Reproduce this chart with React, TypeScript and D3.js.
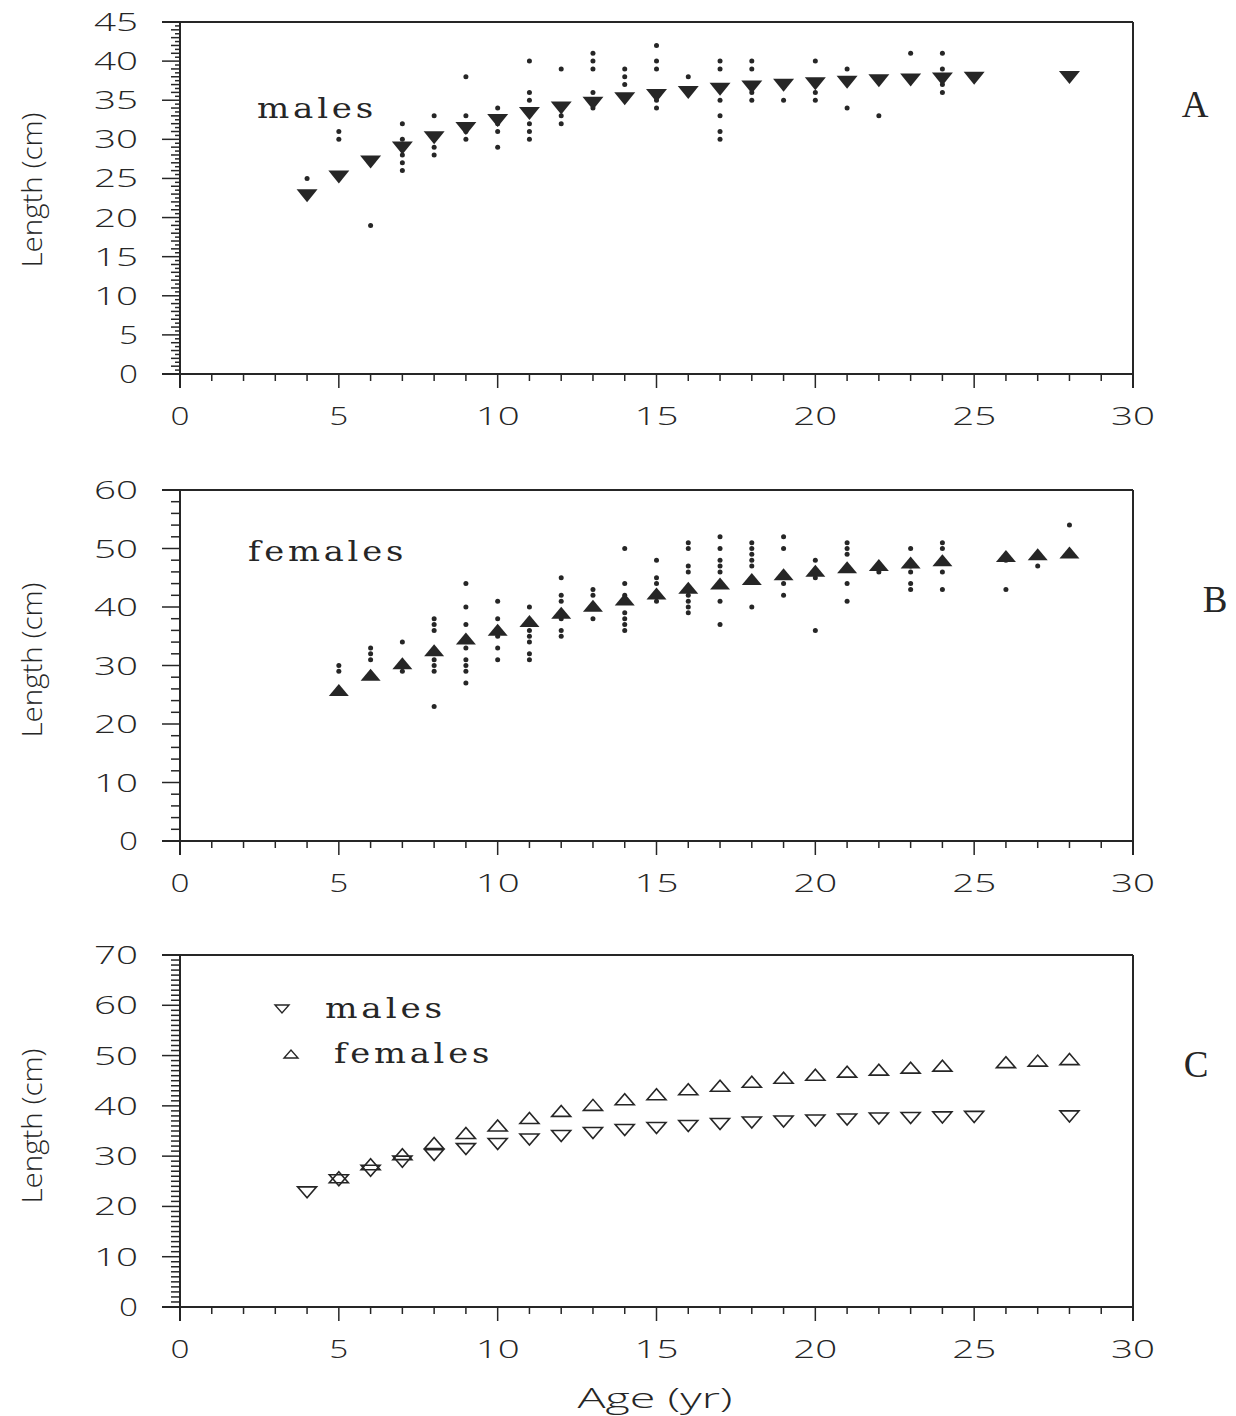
import React from 'react';
import * as d3 from 'd3';

// Age axis ticks and length axis ticks for each panel
const ageTicks = [0, 5, 10, 15, 20, 25, 30];
const lengthTicksA = [0, 5, 10, 15, 20, 25, 30, 35, 40, 45];
const lengthTicksB = [0, 10, 20, 30, 40, 50, 60];
const lengthTicksC = [0, 10, 20, 30, 40, 50, 60, 70];

// Mean length at age (cm)
const maleAges = [4, 5, 6, 7, 8, 9, 10, 11, 12, 13, 14, 15, 16, 17, 18, 19, 20, 21, 22, 23, 24, 25, 28];
const maleMeans = [22.8, 25.2, 27.1, 28.9, 30.2, 31.4, 32.4, 33.3, 34.0, 34.6, 35.2, 35.6, 36.0, 36.4, 36.7, 36.9, 37.1, 37.3, 37.5, 37.6, 37.7, 37.8, 37.9];
const femaleAges = [5, 6, 7, 8, 9, 10, 11, 12, 13, 14, 15, 16, 17, 18, 19, 20, 21, 22, 23, 24, 26, 27, 28];
const femaleMeans = [25.8, 28.4, 30.4, 32.6, 34.6, 36.1, 37.6, 39.0, 40.2, 41.3, 42.3, 43.3, 44.0, 44.8, 45.6, 46.2, 46.8, 47.2, 47.6, 48.0, 48.7, 49.0, 49.3];

// Individual fish lengths (cm) by age
const maleLengths: [number, number[]][] = [
  [4, [25]],
  [5, [31, 30]],
  [6, [19]],
  [7, [32, 30, 28, 27, 26]],
  [8, [33, 29, 28]],
  [9, [38, 33, 31, 30]],
  [10, [34, 32, 31, 29]],
  [11, [40, 36, 35, 32, 31, 30]],
  [12, [39, 33, 32]],
  [13, [41, 40, 39, 36, 34]],
  [14, [39, 38, 37]],
  [15, [42, 40, 39, 35, 34]],
  [16, [38]],
  [17, [40, 39, 35, 33, 31, 30]],
  [18, [40, 39, 36, 35]],
  [19, [35]],
  [20, [40, 36, 35]],
  [21, [39, 34]],
  [22, [33]],
  [23, [41]],
  [24, [41, 39, 37, 36]],
];

const femaleLengths: [number, number[]][] = [
  [5, [30, 29]],
  [6, [33, 32, 31]],
  [7, [34, 29]],
  [8, [38, 37, 36, 31, 30, 29, 23]],
  [9, [44, 40, 37, 33, 31, 30, 29, 27]],
  [10, [41, 38, 35, 33, 31]],
  [11, [40, 36, 35, 34, 32, 31]],
  [12, [45, 42, 41, 38, 36, 35]],
  [13, [43, 42, 38]],
  [14, [50, 44, 42, 39, 38, 37, 36]],
  [15, [48, 45, 44, 41]],
  [16, [51, 50, 47, 46, 42, 41, 40, 39]],
  [17, [52, 50, 48, 47, 46, 41, 37]],
  [18, [51, 50, 49, 48, 47, 40]],
  [19, [52, 50, 44, 42]],
  [20, [48, 45, 36]],
  [21, [51, 50, 49, 44, 41]],
  [22, [46]],
  [23, [50, 47, 46, 44, 43]],
  [24, [51, 50, 46, 43]],
  [26, [48, 43]],
  [27, [47]],
  [28, [54]],
];

const INK = '#262626';
const SANS = "'Open Sans', 'DejaVu Sans', sans-serif";
const SERIF = "'DejaVu Serif', 'Liberation Serif', serif";
const TIMES = "'Liberation Serif', 'DejaVu Serif', serif";

const X_LEFT = 180;
const X_RIGHT = 1133;
const x = d3.scaleLinear().domain([0, 30]).range([X_LEFT, X_RIGHT]);

const yA = d3.scaleLinear().domain([0, 45]).range([374, 22]);
const yB = d3.scaleLinear().domain([0, 60]).range([841, 490]);
const yC = d3.scaleLinear().domain([0, 70]).range([1307, 955]);

function downTri(cx: number, cy: number, w: number, h: number) {
  return `M${cx - w / 2},${cy - h / 2}L${cx + w / 2},${cy - h / 2}L${cx},${cy + h / 2}Z`;
}
function upTri(cx: number, cy: number, w: number, h: number) {
  return `M${cx - w / 2},${cy + h / 2}L${cx + w / 2},${cy + h / 2}L${cx},${cy - h / 2}Z`;
}

function digitWidth(label: string) {
  return label.length === 1 ? 19 : 44;
}

type FrameProps = {
  y: d3.ScaleLinear<number, number>;
  ticks: number[];
  minorSteps: number[];
  yLabelCenter: number;
};

function Frame({ y, ticks, minorSteps, yLabelCenter }: FrameProps) {
  const [lo, hi] = y.domain();
  const yBottom = y(lo);
  const yTop = y(hi);
  const majorStep = ticks[1] - ticks[0];
  const fine = minorSteps[minorSteps.length - 1];
  const yTickMarks: { v: number; len: number }[] = [];
  const n = Math.round((hi - lo) / fine);
  for (let i = 0; i <= n; i++) {
    const v = lo + i * fine;
    let len = 5;
    if (Math.abs(v / majorStep - Math.round(v / majorStep)) < 1e-6) len = 18;
    else if (minorSteps.length > 1 && Math.abs(v / minorSteps[0] - Math.round(v / minorSteps[0])) < 1e-6) len = 9;
    else if (minorSteps.length === 1) len = 9;
    yTickMarks.push({ v, len });
  }
  const ageMarks = d3.range(0, 31);
  return (
    <g>
      {/* frame */}
      <line x1={X_LEFT - 18} x2={X_RIGHT} y1={yTop} y2={yTop} stroke={INK} strokeWidth={2} />
      <line x1={X_LEFT - 18} x2={X_RIGHT} y1={yBottom} y2={yBottom} stroke={INK} strokeWidth={2} />
      <line x1={X_LEFT} x2={X_LEFT} y1={yTop} y2={yBottom + 14} stroke={INK} strokeWidth={2} />
      <line x1={X_RIGHT} x2={X_RIGHT} y1={yTop} y2={yBottom + 14} stroke={INK} strokeWidth={2} />
      {/* length ticks */}
      {yTickMarks.map((t, i) => (
        <line key={`yt${i}`} x1={X_LEFT - t.len} x2={X_LEFT} y1={y(t.v)} y2={y(t.v)} stroke={INK} strokeWidth={1.5} />
      ))}
      {ticks.map((t) => (
        <text
          key={`yl${t}`}
          x={138}
          y={y(t) + 9}
          textAnchor="end"
          fontFamily={SANS}
          fontWeight={300}
          fontSize={26}
          fill={INK}
          textLength={digitWidth(String(t))}
          lengthAdjust="spacingAndGlyphs"
        >
          {t}
        </text>
      ))}
      {/* age ticks */}
      {ageMarks.map((a) => (
        <line
          key={`xt${a}`}
          x1={x(a)}
          x2={x(a)}
          y1={yBottom}
          y2={yBottom + (a % 5 === 0 ? 14 : 7)}
          stroke={INK}
          strokeWidth={1.5}
        />
      ))}
      {ageTicks.map((a) => (
        <text
          key={`xl${a}`}
          x={x(a)}
          y={yBottom + 51}
          textAnchor="middle"
          fontFamily={SANS}
          fontWeight={300}
          fontSize={26}
          fill={INK}
          textLength={digitWidth(String(a))}
          lengthAdjust="spacingAndGlyphs"
        >
          {a}
        </text>
      ))}
      <text
        transform={`translate(42,${yLabelCenter}) rotate(-90)`}
        textAnchor="middle"
        fontFamily={SANS}
        fontWeight={300}
        fontSize={27}
        fill={INK}
        textLength={155}
        lengthAdjust="spacingAndGlyphs"
      >
        Length (cm)
      </text>
    </g>
  );
}

// Wide serif caption used for the sex labels
function Caption({ x0, y0, text, width }: { x0: number; y0: number; text: string; width: number }) {
  return (
    <text
      x={x0}
      y={y0}
      fontFamily={SERIF}
      fontSize={27}
      fill={INK}
      textLength={width}
      lengthAdjust="spacingAndGlyphs"
      letterSpacing={3}
    >
      {text}
    </text>
  );
}

export default function App() {
  return (
    <svg
      width={1236}
      height={1416}
      viewBox="0 0 1236 1416"
      style={{ position: 'absolute', left: 0, top: 0, background: '#fff' }}
    >
      <rect width={1236} height={1416} fill="#fff" />

      {/* Panel A: males */}
      <Frame y={yA} ticks={lengthTicksA} minorSteps={[1, 0.5]} yLabelCenter={190} />
      <Caption x0={257} y0={118} text="males" width={120} />
      {maleLengths.map(([age, ls]) =>
        ls.map((l, i) => <circle key={`am${age}-${i}`} cx={x(age)} cy={yA(l)} r={2.5} fill={INK} />)
      )}
      {maleAges.map((a, i) => (
        <path key={`amt${a}`} d={downTri(x(a), yA(maleMeans[i]), 21, 13)} fill={INK} />
      ))}
      <text x={1195} y={117} textAnchor="middle" fontFamily={TIMES} fontSize={37} fill={INK}>
        A
      </text>

      {/* Panel B: females */}
      <Frame y={yB} ticks={lengthTicksB} minorSteps={[2]} yLabelCenter={660} />
      <Caption x0={248} y0={561} text="females" width={159} />
      {femaleLengths.map(([age, ls]) =>
        ls.map((l, i) => <circle key={`bf${age}-${i}`} cx={x(age)} cy={yB(l)} r={2.5} fill={INK} />)
      )}
      {femaleAges.map((a, i) => (
        <path key={`bft${a}`} d={upTri(x(a), yB(femaleMeans[i]), 20, 12)} fill={INK} />
      ))}
      <text x={1215} y={612} textAnchor="middle" fontFamily={TIMES} fontSize={37} fill={INK}>
        B
      </text>

      {/* Panel C: mean length at age, both sexes */}
      <Frame y={yC} ticks={lengthTicksC} minorSteps={[1]} yLabelCenter={1126} />
      <path d={downTri(282, 1009, 14, 8)} fill="none" stroke={INK} strokeWidth={1.4} />
      <Caption x0={325} y0={1018} text="males" width={121} />
      <path d={upTri(291, 1054, 14, 8)} fill="none" stroke={INK} strokeWidth={1.4} />
      <Caption x0={334} y0={1063} text="females" width={159} />
      {maleAges.map((a, i) => (
        <path key={`cm${a}`} d={downTri(x(a), yC(maleMeans[i]), 19, 11)} fill="none" stroke={INK} strokeWidth={1.6} />
      ))}
      {femaleAges.map((a, i) => (
        <path key={`cf${a}`} d={upTri(x(a), yC(femaleMeans[i]), 19, 11)} fill="none" stroke={INK} strokeWidth={1.6} />
      ))}
      <text x={1196} y={1077} textAnchor="middle" fontFamily={TIMES} fontSize={37} fill={INK}>
        C
      </text>

      <text
        x={655}
        y={1408}
        textAnchor="middle"
        fontFamily={SANS}
        fontWeight={300}
        fontSize={27}
        fill={INK}
        textLength={155}
        lengthAdjust="spacingAndGlyphs"
      >
        Age (yr)
      </text>
    </svg>
  );
}
